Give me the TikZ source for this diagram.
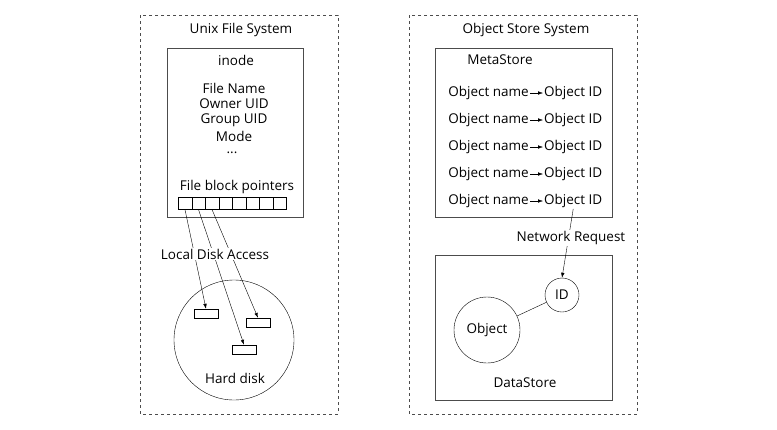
\documentclass[tikz,border=0pt]{standalone}
\usepackage{fontspec}
\setmainfont{Open Sans}
\usetikzlibrary{arrows.meta}
\begin{document}
\begin{tikzpicture}[x=1pt,y=-1pt,font=\fontsize{13.5}{15}\selectfont,
  dbox/.style={draw,dashed,gray!60!black},
  sbox/.style={draw,semithick,black!70},
  arr/.style={-{Latex[length=5pt,width=3.5pt]}},
  lbl/.style={inner sep=1pt}]
\useasboundingbox (0,0) rectangle (777,429);
\draw[dbox] (140,15) rectangle (338,414);
\draw[dbox] (409,15) rectangle (637,414);
\node[lbl] (t1) at (241,30) {Unix File System};
\node[lbl] (t2) at (526,30) {Object Store System};
% inode
\draw[sbox] (167,48) rectangle (303,217);
\node[lbl] (in) at (236,60) {inode};
\node[lbl] (f1) at (234,88) {File Name};
\node[lbl] (f2) at (234,104) {Owner UID};
\node[lbl] (f3) at (234,120) {Group UID};
\node[lbl] (f4) at (234,136) {Mode};
\node[lbl] (f5) at (232,153) {...};
\node[lbl] (fb) at (237,187) {File block pointers};
\foreach \i in {0,...,7}{
  \node[draw,minimum width=13.5pt,minimum height=12pt,inner sep=0pt,anchor=north west] (c\i) at (178+13.5*\i,197) {};
}
% disk
\node[draw,circle,minimum size=120pt,inner sep=0pt] (disk) at (234,340) {};
\node[lbl] (hd) at (235,378) {Hard disk};
\node[draw,minimum width=24pt,minimum height=9pt,inner sep=0pt] (b1) at (206,313.5) {};
\node[draw,minimum width=24pt,minimum height=9pt,inner sep=0pt] (b2) at (258,322.5) {};
\node[draw,minimum width=24pt,minimum height=9pt,inner sep=0pt] (b3) at (244,349.5) {};
\draw[arr] (c0.south) -- (b1.north);
\draw[arr] (c1.south) -- (b3.north);
\draw[arr] (c2.south) -- (b2.north);
\node[lbl,fill=white] (lda) at (215,254) {Local Disk Access};
% metastore
\draw[sbox] (435,48) rectangle (612,217);
\node[lbl] (ms) at (500,60) {MetaStore};
\foreach \y [count=\k] in {93,120,147,174,201}{
  \node[lbl,anchor=east] (on\k) at (530,\y) {Object name};
  \node[lbl,anchor=west] (oi\k) at (543,\y) {Object ID};
  \draw[arr] (on\k.east) -- (oi\k.west);
}
% datastore
\draw[sbox] (435,255) rectangle (612,400);
\node[draw,circle,minimum size=34pt,inner sep=0pt] (id) at (562,295) {ID};
\node[draw,circle,minimum size=66pt,inner sep=0pt] (obj) at (487,330) {Object};
\draw (obj) -- (id);
\node[lbl] (ds) at (525,383) {DataStore};
\draw[arr] (oi5.south) -- (id.north);
\node[lbl,fill=white] (nr) at (571,238) {Network Request};
\end{tikzpicture}
\end{document}
